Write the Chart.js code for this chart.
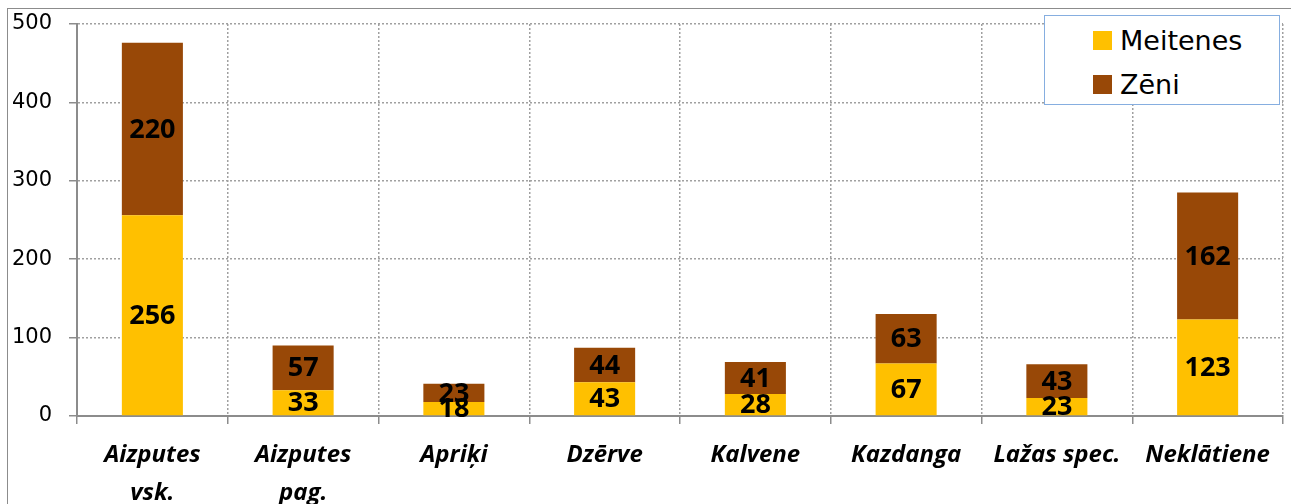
<!DOCTYPE html>
<html>
<head>
<meta charset="utf-8">
<script src="https://cdn.jsdelivr.net/npm/chart.js@4"></script>
<style>
  html, body { margin: 0; padding: 0; background: #fff; }
  #wrap { position: relative; width: 1291px; height: 504px; overflow: hidden; }
  #frame { position: absolute; left: 7px; top: 8px; width: 1300px; height: 520px; border-left: 1.5px solid #8c8c8c; border-top: 1.5px solid #8c8c8c; box-sizing: border-box; }
  canvas { position: absolute; left: 0; top: 0; }
  #legend { position: absolute; left: 1044px; top: 15px; width: 236px; height: 90px; border: 1.5px solid #86aee0; box-sizing: border-box; background: #fff; font-family: "DejaVu Sans", sans-serif; font-size: 27px; color: #000; }
  .item { position: absolute; left: 48px; height: 30px; display: flex; align-items: center; }
  .sw { width: 19px; height: 19px; margin-right: 8px; }
</style>
</head>
<body>
<div id="wrap">
  <div id="frame"></div>
  <canvas id="c" width="1291" height="504"></canvas>
  <div id="legend"></div>
</div>
<script>
const categories = [
  ['Aizputes', 'vsk.'],
  ['Aizputes', 'pag.'],
  'Apriķi',
  'Dzērve',
  'Kalvene',
  'Kazdanga',
  'Lažas spec.',
  'Neklātiene'
];
const meitenes = [256, 33, 18, 43, 28, 67, 23, 123];
const zeni = [220, 57, 23, 44, 41, 63, 43, 162];
const seriesNames = ['Meitenes', 'Zēni'];
const seriesColors = ['#FFC000', '#984807'];
const yTicks = [0, 100, 200, 300, 400, 500];

const labelPlugin = {
  id: 'barLabels',
  afterDatasetsDraw(chart) {
    const ctx = chart.ctx;
    ctx.save();
    ctx.font = 'bold 27px "Open Sans", sans-serif';
    ctx.fillStyle = '#000';
    ctx.textAlign = 'center';
    ctx.textBaseline = 'middle';
    chart.data.datasets.forEach((ds, di) => {
      const meta = chart.getDatasetMeta(di);
      meta.data.forEach((bar, i) => {
        const cy = (bar.y + bar.base) / 2;
        ctx.fillText(String(ds.data[i]), bar.x, cy + 1);
      });
    });
    ctx.restore();
  }
};

const chart = new Chart(document.getElementById('c'), {
  type: 'bar',
  data: {
    labels: categories,
    datasets: [
      { label: seriesNames[0], data: meitenes, backgroundColor: seriesColors[0] },
      { label: seriesNames[1], data: zeni, backgroundColor: seriesColors[1] }
    ]
  },
  options: {
    responsive: false,
    devicePixelRatio: 1,
    animation: false,
    barPercentage: 0.405,
    categoryPercentage: 1,
    layout: { padding: { left: 0, top: 24, right: 8, bottom: 0 } },
    plugins: { legend: { display: false }, tooltip: { enabled: false } },
    scales: {
      x: {
        stacked: true,
        grid: { color: '#a0a0a0', lineWidth: 1.5, offset: true, tickLength: 8, tickColor: '#8c8c8c', tickBorderDash: [], drawTicks: true },
        border: { color: '#8c8c8c', width: 2, dash: [2, 2] },
        ticks: { color: '#000', font: { family: '"Open Sans", sans-serif', size: 24, weight: 'bold', style: 'italic', lineHeight: 1.6 }, padding: 12, maxRotation: 0, autoSkip: false },
        afterFit(scale) { scale.height = 88; scale.paddingLeft = 0; scale.paddingRight = 0; }
      },
      y: {
        stacked: true,
        min: 0, max: 500,
        afterBuildTicks(scale) { scale.ticks = yTicks.map(v => ({ value: v })); },
        grid: { color: '#a0a0a0', lineWidth: 1.5, tickLength: 8, tickColor: '#8c8c8c', tickBorderDash: [] },
        border: { color: '#8c8c8c', width: 2, dash: [2, 2] },
        ticks: { color: '#000', font: { family: '"DejaVu Sans", sans-serif', size: 21 }, padding: 17 },
        afterFit(scale) { scale.width = 77; scale.paddingTop = 0; scale.paddingBottom = 0; }
      }
    }
  },
  plugins: [labelPlugin]
});

const legend = document.getElementById('legend');
chart.data.datasets.forEach((ds, i) => {
  const it = document.createElement('div');
  it.className = 'item';
  it.style.top = (9 + i * 44) + 'px';
  const sw = document.createElement('span');
  sw.className = 'sw';
  sw.style.background = ds.backgroundColor;
  const tx = document.createElement('span');
  tx.textContent = ds.label;
  it.appendChild(sw);
  it.appendChild(tx);
  legend.appendChild(it);
});
</script>
</body>
</html>
